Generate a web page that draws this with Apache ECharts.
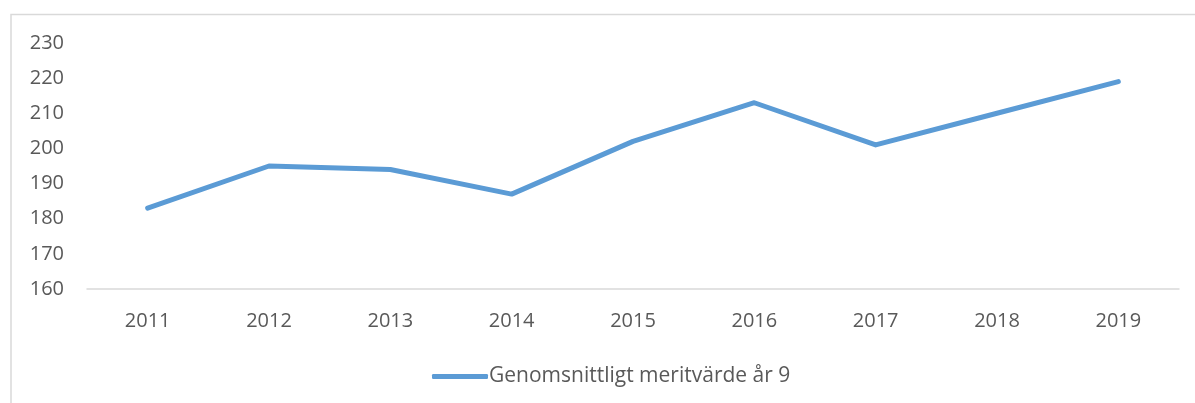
<!DOCTYPE html>
<html>
<head>
<meta charset="utf-8">
<script src="https://cdn.jsdelivr.net/npm/echarts@6/dist/echarts.min.js"></script>
<style>
  html, body { margin: 0; padding: 0; background: #fff; }
  #chart { width: 1195px; height: 403px; }
</style>
</head>
<body>
<div id="chart"></div>
<script>
const years = ['2011', '2012', '2013', '2014', '2015', '2016', '2017', '2018', '2019']
const meritValues = [183, 195, 194, 187, 202, 213, 201, 210, 219]
const seriesName = 'Genomsnittligt meritvärde år 9'

const textColor = '#595959'
const lineColor = '#5b9bd5'
const gridColor = '#d9d9d9'
const fontFamily = '"Open Sans", "Liberation Sans", sans-serif'

const chart = echarts.init(document.getElementById('chart'))
chart.setOption({
  animation: false,
  graphic: [
    {
      type: 'rect',
      shape: { x: 11, y: 14.5, width: 1200, height: 420 },
      style: { fill: 'none', stroke: gridColor, lineWidth: 1.5 },
      silent: true
    }
  ],
  grid: { left: 87, right: 16, top: 43, bottom: 114 },
  legend: {
    data: [seriesName],
    left: 427,
    top: 361,
    icon: 'roundRect',
    itemWidth: 56,
    itemHeight: 5,
    itemGap: 10,
    textStyle: { color: textColor, fontSize: 21, fontFamily: fontFamily, padding: [0, 0, 0, -4] }
  },
  xAxis: {
    type: 'category',
    data: years,
    boundaryGap: true,
    axisLine: { lineStyle: { color: gridColor, width: 1.5 } },
    axisTick: { show: false },
    axisLabel: { color: textColor, fontSize: 20, fontFamily: fontFamily, margin: 22 }
  },
  yAxis: {
    type: 'value',
    min: 160,
    max: 230,
    interval: 10,
    axisLine: { show: false },
    axisTick: { show: false },
    splitLine: { show: false },
    axisLabel: { color: textColor, fontSize: 20, fontFamily: fontFamily, margin: 23 }
  },
  series: [
    {
      name: seriesName,
      type: 'line',
      data: meritValues,
      symbol: 'none',
      itemStyle: { color: lineColor },
      lineStyle: { color: lineColor, width: 5, cap: 'round', join: 'round' }
    }
  ]
})
</script>
</body>
</html>
